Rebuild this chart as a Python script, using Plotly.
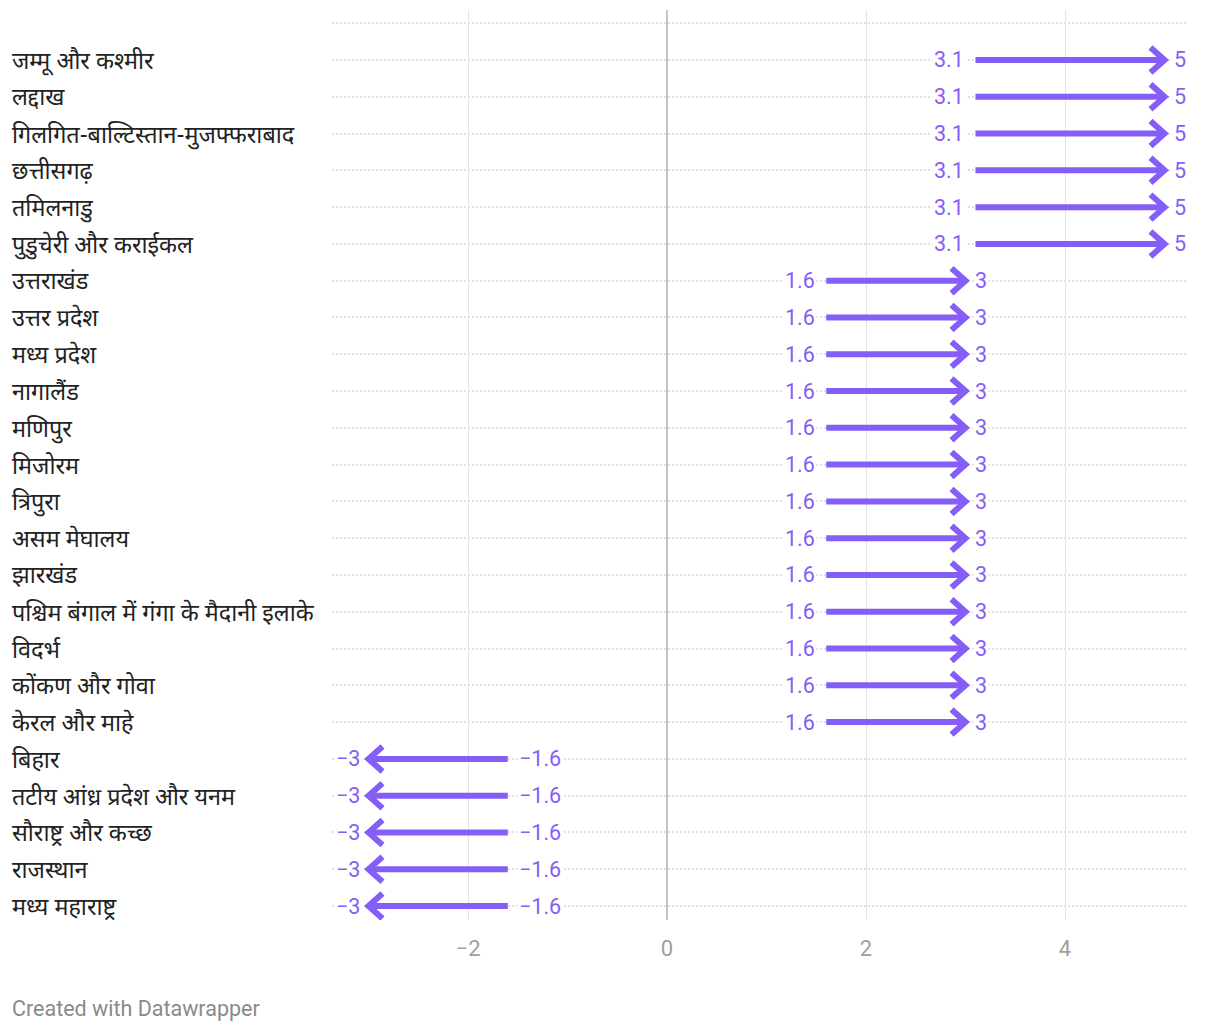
import plotly.graph_objects as go

categories = [
    "जम्मू और कश्मीर", "लद्दाख", "गिलगित-बाल्टिस्तान-मुजफ्फराबाद", "छत्तीसगढ़",
    "तमिलनाडु", "पुडुचेरी और कराईकल", "उत्तराखंड", "उत्तर प्रदेश", "मध्य प्रदेश",
    "नागालैंड", "मणिपुर", "मिजोरम", "त्रिपुरा", "असम मेघालय", "झारखंड",
    "पश्चिम बंगाल में गंगा के मैदानी इलाके", "विदर्भ", "कोंकण और गोवा", "केरल और माहे",
    "बिहार", "तटीय आंध्र प्रदेश और यनम", "सौराष्ट्र और कच्छ", "राजस्थान", "मध्य महाराष्ट्र",
]
start_values = [3.1] * 6 + [1.6] * 13 + [-1.6] * 5
end_values = [5] * 6 + [3] * 13 + [-3] * 5
x_ticks = [-2, 0, 2, 4]

PURPLE = "#845ef7"
W, H = 1220, 1034
ML, MR, MT, MB = 332, 34, 10, 114
X_RANGE = [-3.367, 5.216]
Y_RANGE = [23.38, -1.359]

px_per_x = (W - ML - MR) / (X_RANGE[1] - X_RANGE[0])
px_per_row = (H - MT - MB) / (Y_RANGE[0] - Y_RANGE[1])
head_dx = 14 / px_per_x
head_dy = 12.5 / px_per_row


def fmt(v):
    s = f"{abs(v):g}"
    return ("\u2212" if v < 0 else "") + s


shaft_x, shaft_y, head_x, head_y = [], [], [], []
for i, (s, e) in enumerate(zip(start_values, end_values)):
    d = 1 if e > s else -1
    shaft_x += [s, e - d * 0.02, None]
    shaft_y += [i, i, None]
    head_x += [e - d * head_dx, e, e - d * head_dx, None]
    head_y += [i - head_dy, i, i + head_dy, None]

fig = go.Figure()
fig.add_trace(go.Scatter(x=shaft_x, y=shaft_y, mode="lines",
                         line=dict(color=PURPLE, width=6), hoverinfo="skip",
                         showlegend=False))
fig.add_trace(go.Scatter(x=head_x, y=head_y, mode="lines",
                         line=dict(color=PURPLE, width=6), hoverinfo="skip",
                         showlegend=False))

annotations = []
num_font = dict(family="Roboto, sans-serif", size=21.5, color=PURPLE)
for i, (cat, s, e) in enumerate(zip(categories, start_values, end_values)):
    d = 1 if e > s else -1
    annotations.append(dict(
        x=s, y=i, xref="x", yref="y", text=fmt(s), showarrow=False,
        xanchor="right" if d > 0 else "left", xshift=-9 * d, yanchor="middle",
        font=num_font, bgcolor="white", borderpad=1))
    annotations.append(dict(
        x=e, y=i, xref="x", yref="y", text=fmt(e), showarrow=False,
        xanchor="left" if d > 0 else "right", xshift=7 * d, yanchor="middle",
        font=num_font, bgcolor="white", borderpad=1))
    annotations.append(dict(
        x=0, y=i, xref="paper", yref="y", text=cat, showarrow=False,
        xanchor="left", xshift=-(ML - 10), yanchor="middle", yshift=-3,
        font=dict(family="Noto Sans Devanagari, Noto Sans, sans-serif", size=23.4, color="#222222")))

annotations.append(dict(
    x=0, y=0, xref="paper", yref="paper", text="Created with Datawrapper",
    showarrow=False, xanchor="left", yanchor="middle", xshift=-(ML - 10), yshift=-88,
    font=dict(family="Roboto, sans-serif", size=21.5, color="#8a8a8a")))

fig.update_layout(
    width=W, height=H,
    margin=dict(l=ML, r=MR, t=MT, b=MB),
    paper_bgcolor="white", plot_bgcolor="white",
    annotations=annotations,
    xaxis=dict(range=X_RANGE, tickvals=x_ticks, showgrid=True, gridcolor="#e3e3e3",
               gridwidth=1, zeroline=True, zerolinecolor="#c4c4c4", zerolinewidth=1.5,
               showline=False, ticks="", ticklabelstandoff=13,
               tickfont=dict(family="Roboto, sans-serif", size=22, color="#a0a0a0")),
    yaxis=dict(range=Y_RANGE, tickvals=list(range(-1, len(categories))),
               showticklabels=False, showgrid=True, gridcolor="#e0e0e0",
               griddash="2px,2px", gridwidth=1.5, zeroline=False, showline=False),
)

fig.write_html("out.html", config={"displayModeBar": False},
               post_script="document.body.style.margin='0';")
